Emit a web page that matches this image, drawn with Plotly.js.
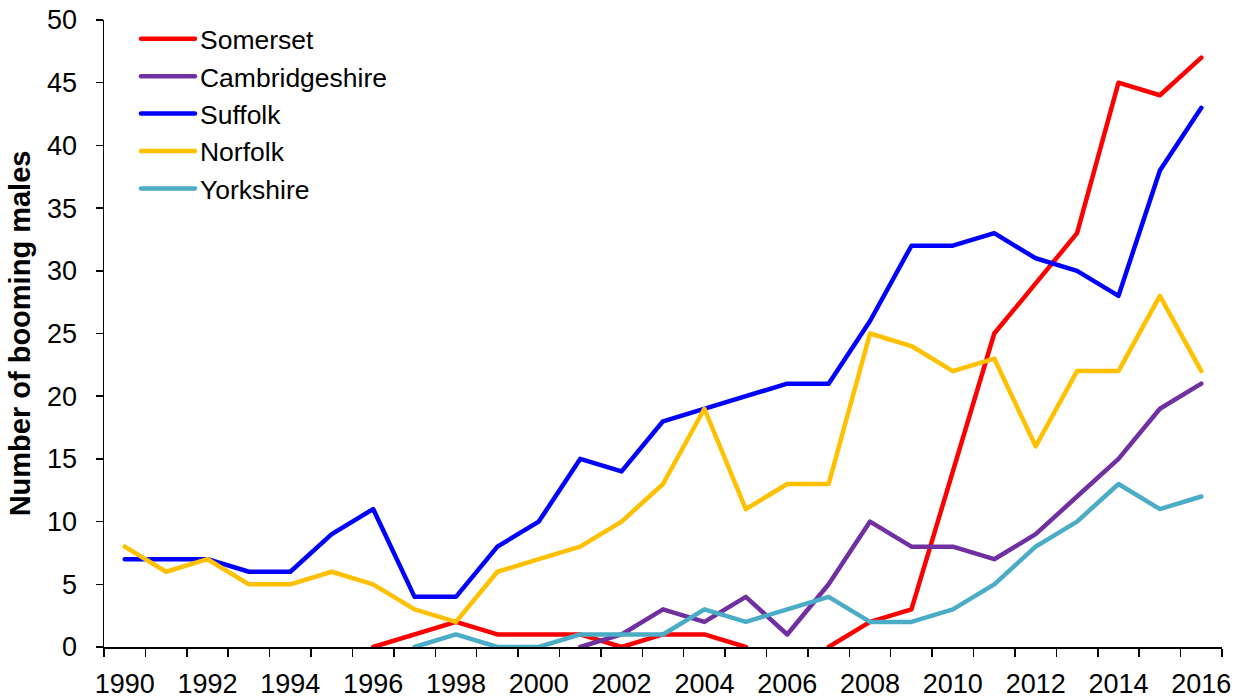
<!DOCTYPE html>
<html>
<head>
<meta charset="utf-8">
<script src="https://cdn.plot.ly/plotly-3.0.1.min.js"></script>
<style>html,body{margin:0;padding:0;background:#fff;}#chart{width:1243px;height:700px;}
#chart .scatterlayer path.js-line{stroke-linejoin:round;stroke-linecap:round;}
#chart .legend path.js-line{stroke-linecap:round;}</style>
</head>
<body>
<div id="chart"></div>
<script>
const years = [1990,1991,1992,1993,1994,1995,1996,1997,1998,1999,2000,2001,2002,2003,2004,2005,2006,2007,2008,2009,2010,2011,2012,2013,2014,2015,2016];
const somerset =       [null,null,null,null,null,null,0,1,2,1,1,1,0,1,1,0,null,0,2,3,14,25,29,33,45,44,47];
const cambridgeshire = [null,null,null,null,null,null,null,null,null,null,null,0,1,3,2,4,1,5,10,8,8,7,9,12,15,19,21];
const suffolk =        [7,7,7,6,6,9,11,4,4,8,10,15,14,18,19,20,21,21,26,32,32,33,31,30,28,38,43];
const norfolk =        [8,6,7,5,5,6,5,3,2,6,7,8,10,13,19,11,13,13,25,24,22,23,16,22,22,28,22];
const yorkshire =      [null,null,null,null,null,null,null,0,1,0,0,1,1,1,3,2,3,4,2,2,3,5,8,10,13,11,12];
const seriesNames = ['Somerset','Cambridgeshire','Suffolk','Norfolk','Yorkshire'];
const seriesData = [somerset, cambridgeshire, suffolk, norfolk, yorkshire];
const seriesColors = ['#FF0000','#7030A0','#0000FF','#FFC000','#4BACC6'];

const traces = seriesNames.map((n,i)=>({
  type:'scatter', mode:'lines', name:n, x:years, y:seriesData[i],
  line:{color:seriesColors[i], width:4.5, shape:'linear'},
  connectgaps:false, cliponaxis:false
}));

const layout = {
  width:1243, height:700,
  margin:{l:104, r:21, t:20, b:53},
  paper_bgcolor:'#fff', plot_bgcolor:'#fff',
  font:{family:'Liberation Sans, Arial, sans-serif', color:'#000'},
  showlegend:true,
  legend:{x:0.0286, y:1.008, xanchor:'left', yanchor:'top', font:{size:26.5, color:'#000'}, bgcolor:'rgba(0,0,0,0)', itemwidth:54, traceorder:'normal'},
  xaxis:{range:[1989.5,2016.5], tick0:1990, dtick:2, ticks:'', showgrid:false, zeroline:false,
    showline:true, linecolor:'#000', linewidth:1.5, tickfont:{size:27, color:'#000'}, ticklabelstandoff:12,
    minor:{tick0:1989.5, dtick:1, ticks:'outside', ticklen:8, tickwidth:1.5, tickcolor:'#000', showgrid:false}},
  yaxis:{range:[0,50], dtick:5, ticks:'outside', ticklen:7, tickwidth:1.5, tickcolor:'#000', showgrid:false, zeroline:false,
    showline:true, linecolor:'#000', linewidth:1.5, tickfont:{size:27, color:'#000'}, ticklabelstandoff:13,
    title:{text:'<b>Number of booming males</b>', font:{size:29, color:'#000'}, standoff:8}}
};
Plotly.newPlot('chart', traces, layout, {displayModeBar:false, staticPlot:true});
</script>
</body>
</html>
